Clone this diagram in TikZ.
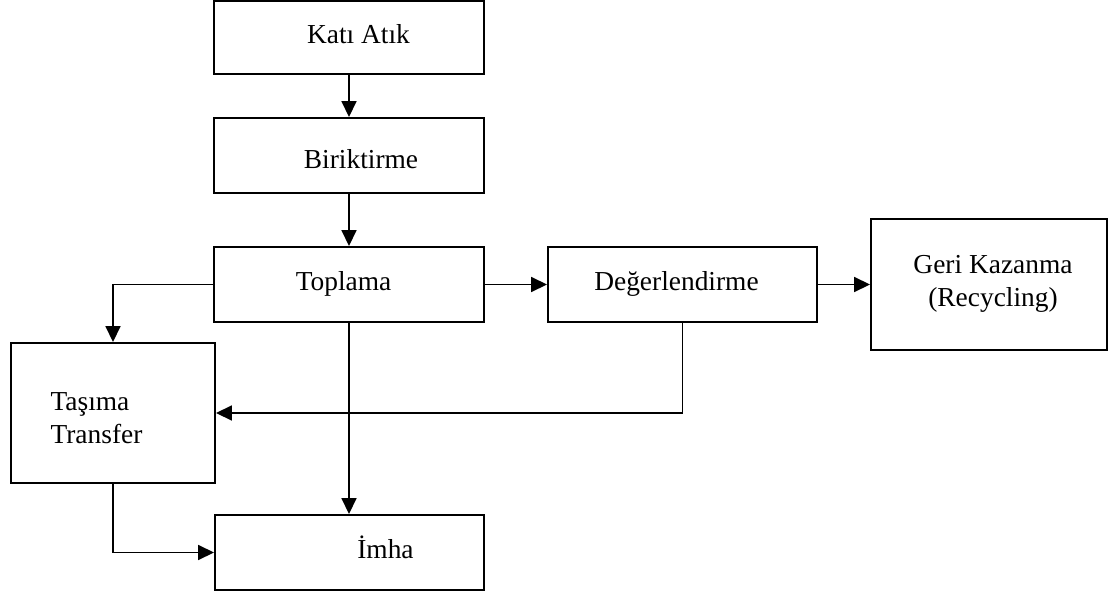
\documentclass[tikz,border=0pt]{standalone}
\usepackage{fontspec}
\setmainfont{Liberation Serif}
\usetikzlibrary{arrows.meta, positioning}

\begin{document}
\begin{tikzpicture}[
      x=0.02cm, y=-0.02cm,
      box/.style={rectangle, draw, line width=1.1pt, inner sep=0pt},
      txt/.style={font=\fontsize{15.6}{18.7}\selectfont, text height=0.7em, text depth=0.25em, inner sep=0pt, yshift=-0.05cm},
      txtml/.style={font=\fontsize{15.6}{18.7}\selectfont, inner sep=0pt},
      link/.style={->, line width=1pt},
      >={Triangle[length=3.2mm, width=3mm]}
    ]
      \useasboundingbox (0,0) rectangle (1109,595);
      \node[box, minimum width=270*0.02cm, minimum height=73*0.02cm,
        label={[txt, xshift=0.19cm]center:Katı Atık}] (katiatik) at (349,37.5) {};
      \node[box, minimum width=270*0.02cm, minimum height=75*0.02cm,
        label={[txt, xshift=0.24cm, yshift=-0.14cm]center:Biriktirme}] (biriktirme) at (349,155.5) {};
      \node[box, minimum width=270*0.02cm, minimum height=75*0.02cm,
        label={[txt, xshift=-0.11cm]center:Toplama}] (toplama) at (349,284.5) {};
      \node[box, minimum width=269*0.02cm, minimum height=75*0.02cm,
        label={[txt, xshift=-0.12cm]center:Değerlendirme}] (degerlendirme) at (682.5,284.5) {};
      \node[box, minimum width=236*0.02cm, minimum height=131*0.02cm,
        label={[txtml, align=center, xshift=0.08cm, yshift=0.02cm]center:Geri Kazanma\\(Recycling)}] (gerikazanma) at (989,284.5) {};
      \node[box, minimum width=204*0.02cm, minimum height=140*0.02cm,
        label={[txtml, align=left, xshift=-0.33cm, yshift=-0.1cm]center:Taşıma\\Transfer}] (tasima) at (113,413) {};
      \node[box, minimum width=269*0.02cm, minimum height=75*0.02cm,
        label={[txt, xshift=0.72cm]center:İmha}] (imha) at (349.5,552.5) {};
      \draw[link] (katiatik) -- (biriktirme);
      \draw[link] (biriktirme) -- (toplama);
      \draw[link] (toplama) -- (degerlendirme);
      \draw[link] (degerlendirme) -- (gerikazanma);
      \draw[link] (toplama.west) -| (tasima.north);
      \draw[link] (toplama.south) -- (toplama.south |- imha.north);
      \draw[link] (degerlendirme.south) |- (tasima.east);
      \draw[link] (tasima.south) |- (imha.west);
    \end{tikzpicture}
\end{document}
